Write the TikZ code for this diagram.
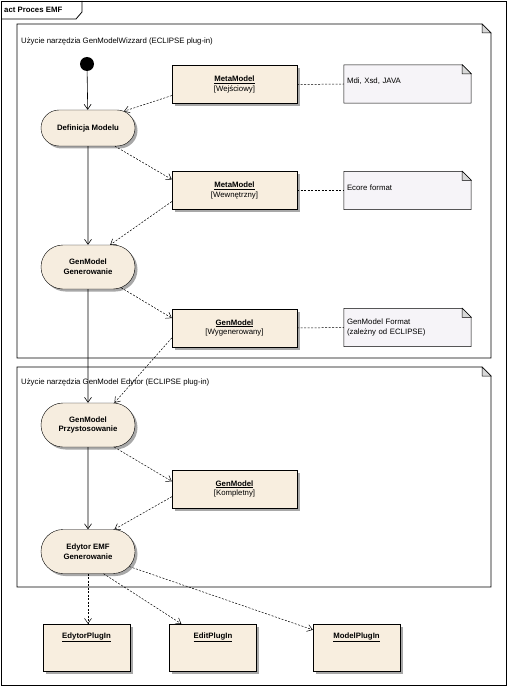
\documentclass[tikz,border=0pt]{standalone}
\usepackage{fontspec}
\setmainfont{Liberation Sans}
\usetikzlibrary{arrows.meta,shadows,shapes.misc,backgrounds}
\definecolor{actfill}{HTML}{F6EDDF}
\definecolor{objfill}{HTML}{F8EEDF}
\definecolor{notefill}{HTML}{F6F4F8}
\definecolor{foldfill}{HTML}{D8D8D8}
\definecolor{shadowc}{HTML}{A8A8A8}
\begin{document}
\begin{tikzpicture}[x=1pt,y=-1pt,
  font=\fontsize{7.8}{9.8}\selectfont,
  every node/.style={inner sep=0pt},
  shad/.style={drop shadow={shadow xshift=2.5pt,shadow yshift=-2.5pt,fill=shadowc,opacity=1}},
  actnode/.style={shape=rounded rectangle, draw, fill=actfill, shad, minimum width=94pt,
    font=\fontsize{7.8}{9.8}\selectfont\bfseries, align=center},
  objnode/.style={draw, fill=objfill, shad, minimum width=125pt, minimum height=38pt, align=center},
  plugnode/.style={draw, fill=objfill, shad, minimum width=87pt, text height=14pt, text depth=33pt, anchor=base},
  notenode/.style={minimum width=127pt, minimum height=38pt, text width=121pt, align=left},
  flow/.style={-{Straight Barb[length=5pt,width=7pt]}, line width=0.6pt},
  dep/.style={-{Straight Barb[length=5pt,width=7pt]}, dash pattern=on 2pt off 1.5pt, line width=0.5pt},
  link/.style={dash pattern=on 2pt off 1.5pt, line width=0.5pt},
  ]
\useasboundingbox (0,0) rectangle (508,687);
% outer frame
\draw[line width=0.8pt] (1,1) rectangle (506,685);
\draw[line width=0.8pt] (1,19) -- (76,19) -- (82,12) -- (82,1);
\node[anchor=west, font=\fontsize{7.8}{9.8}\selectfont\bfseries] (acttitle) at (4,10) {act Proces EMF};
% inner frames
\draw[line width=0.8pt] (17,24) -- (482,24) -- (491,33) -- (491,358) -- (17,358) -- cycle;
\draw[fill=foldfill, line width=0.5pt] (482,24) -- (482,33) -- (491,33) -- cycle;
\node[anchor=west] (f1title) at (21,41) {Użycie narzędzia GenModelWizzard (ECLIPSE plug-in)};
\draw[line width=0.8pt] (17,367) -- (482,367) -- (491,376) -- (491,587) -- (17,587) -- cycle;
\draw[fill=foldfill, line width=0.5pt] (482,367) -- (482,376) -- (491,376) -- cycle;
\node[anchor=west] (f2title) at (21,382) {Użycie narzędzia GenModel Edytor (ECLIPSE plug-in)};

% initial node
\node[circle, fill=black, minimum size=14pt] (init) at (87,64) {};
% actions
\node[actnode, minimum height=36pt] (def) at (88,128) {Definicja Modelu};
\node[actnode, minimum height=44pt] (gen) at (88,267) {GenModel\\Generowanie};
\node[actnode, minimum height=44pt] (prz) at (88,425) {GenModel\\Przystosowanie};
\node[actnode, minimum height=44pt] (edy) at (88,551.5) {Edytor EMF\\Generowanie};
% objects
\node[objnode] (mm1) at (234.5,84.5) {\underline{\textbf{MetaModel}}\\{}[Wejściowy]};
\node[objnode] (mm2) at (234.5,190.5) {\underline{\textbf{MetaModel}}\\{}[Wewnętrzny]};
\node[objnode] (gm1) at (234.5,328) {\underline{\textbf{GenModel}}\\{}[Wygenerowany]};
\node[objnode] (gm2) at (234.5,489) {\underline{\textbf{GenModel}}\\{}[Kompletny]};
% plugins
\node[plugnode] (p1) at (86.5,638) {\underline{\textbf{EdytorPlugIn}}};
\node[plugnode] (p2) at (213,638) {\underline{\textbf{EditPlugIn}}};
\node[plugnode] (p3) at (356.5,638) {\underline{\textbf{ModelPlugIn}}};
% notes
\node[notenode] (n1) at (407.5,84) {\raisebox{6pt}{Mdi, Xsd, JAVA}};
\node[notenode] (n2) at (407.5,190.5) {\raisebox{6pt}{Ecore format}};
\node[notenode] (n3) at (407.5,327.5) {GenModel Format\\(zależny od ECLIPSE)};
\begin{scope}[on background layer]
  \foreach \n in {n1,n2,n3}{
    \draw[fill=notefill, line width=0.5pt] (\n.north west) -- ([xshift=-9pt]\n.north east) -- ([yshift=-9pt]\n.north east) -- (\n.south east) -- (\n.south west) -- cycle;
    \draw[fill=foldfill, line width=0.5pt] ([xshift=-9pt]\n.north east) -- ([xshift=-9pt,yshift=-9pt]\n.north east) -- ([yshift=-9pt]\n.north east) -- cycle;
  }
\end{scope}

% control flows
\draw[flow] (init) -- (def);
\draw[flow] (def) -- (gen);
\draw[flow] (gen) -- (prz);
\draw[flow] (prz) -- (edy);
% object flows
\draw[dep] (mm1.190) -- (def.25);
\draw[dep] (def.-34) -- (mm2.170);
\draw[dep] (mm2.190) -- (gen.45);
\draw[dep] (gen.-32) -- (gm1.171);
\draw[dep] (gm1.189) -- (prz.40);
\draw[dep] (prz.-40) -- (gm2.173);
\draw[dep] (gm2.187) -- (edy.40);
\draw[dep] (edy.south) -- (edy.south |- p1.north);
\draw[dep] (edy.-55) -- ([xshift=12pt]p2.north west);
\draw[dep] (edy.-20) -- ([yshift=-6pt]p3.north west);
% note links
\draw[link] (mm1.east) -- (n1.west);
\draw[link] (mm2.east) -- (n2.west);
\draw[link] (gm1.east) -- (n3.west);
\end{tikzpicture}
\end{document}
